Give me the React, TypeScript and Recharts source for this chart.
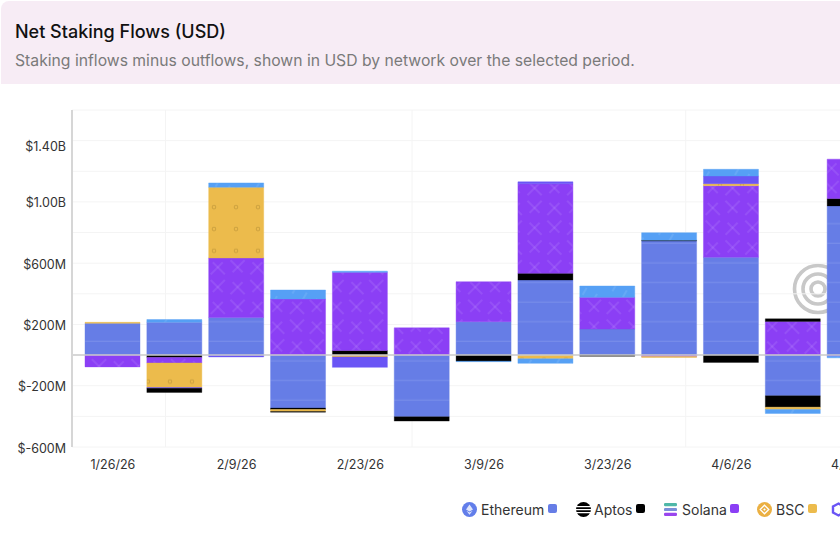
import React from 'react';
import { BarChart, Bar, XAxis, YAxis, CartesianGrid, ReferenceLine } from 'recharts';

const dates = ['1/26/26', '2/2/26', '2/9/26', '2/16/26', '2/23/26', '3/2/26', '3/9/26', '3/16/26', '3/23/26', '3/30/26', '4/6/26', '4/13/26', '4/20/26'];

const ethereum = [208, 215, 246, -346, 0, -403, 218, 490, 170, 745, 639, -266, 974];
const aptos = [0, -16, 0, -10, 30, -28, -40, 44, -8, 5, -48, -74, 48];
const solana = [-77, -36, 388, 366, 510, 178, 261, 584, 207, -10, 467, 220, 257];
const bsc = [6, -160, 462, -12, -12, 0, 0, -24, 0, -5, 13, -15, 0];
const violet = [0, -5, -12, 0, -68, 0, 0, 13, 0, 0, 50, 0, -10];
const blue = [0, 17, 28, 59, 8, 0, -3, -30, 74, 49, 44, -26, -8];
const other = [0, -27, 0, -5, 0, 0, 0, 0, 0, 0, 0, 17, 0];

const yTicks = [-600, -400, -200, 0, 200, 400, 600, 800, 1000, 1200, 1400, 1600];
const yLabels: Record<number, string> = {
  '-600': '$-600M',
  '-200': '$-200M',
  200: '$200M',
  600: '$600M',
  1000: '$1.00B',
  1400: '$1.40B',
};

const data = dates.map((date, i) => ({
  date,
  ethereum: ethereum[i],
  aptos: aptos[i],
  solana: solana[i],
  bsc: bsc[i],
  violet: violet[i],
  blue: blue[i],
  other: other[i],
}));

const COLORS = {
  ethereum: '#667de6',
  aptos: '#000000',
  solana: '#8b3ff5',
  bsc: '#ecbb4c',
  violet: '#6a55f5',
  blue: '#56a0f5',
  other: '#000000',
};

const font = 'Inter, sans-serif';

const YTick = ({ x, y, payload }: any) => {
  const label = yLabels[payload.value];
  if (!label) return null;
  // the top label sits a little under its grid line in the original
  const dy = payload.value === 1400 ? 5 : 0;
  return (
    <text x={66} y={y + dy} dy={5.5} textAnchor="end" fontSize={12.5} fontFamily={font} fill="#333">
      {label}
    </text>
  );
};

const EthIcon = () => (
  <svg width={15} height={15} viewBox="0 0 15 15">
    <circle cx={7.5} cy={7.5} r={7.5} fill="#627eea" />
    <path d="M7.5 2.5 L11 7.6 L7.5 9.6 L4 7.6 Z M4.4 8.8 L7.5 10.6 L10.6 8.8 L7.5 12.8 Z" fill="#dfe5fb" />
  </svg>
);

const AptosIcon = () => (
  <svg width={15} height={15} viewBox="0 0 15 15">
    <circle cx={7.5} cy={7.5} r={7.5} fill="#000" />
    <path d="M0 4.6 H15 M0 7.6 H15 M0 10.6 H15" stroke="#fff" strokeWidth={1.2} />
  </svg>
);

const SolanaIcon = () => (
  <svg width={15} height={15} viewBox="0 0 15 15">
    <rect x={1} y={1} width={13} height={3.2} rx={1.2} fill="#4fb8a8" />
    <rect x={1} y={5.9} width={13} height={3.2} rx={1.2} fill="#7a8fd8" />
    <rect x={1} y={10.8} width={13} height={3.2} rx={1.2} fill="#9a45ee" />
  </svg>
);

const BscIcon = () => (
  <svg width={15} height={15} viewBox="0 0 15 15">
    <circle cx={7.5} cy={7.5} r={7.5} fill="#ebb042" />
    <path d="M7.5 3.2 L11.8 7.5 L7.5 11.8 L3.2 7.5 Z" fill="none" stroke="#fff" strokeWidth={1.3} />
    <path d="M7.5 6.2 L8.8 7.5 L7.5 8.8 L6.2 7.5 Z" fill="#fff" />
  </svg>
);

const HexIcon = () => (
  <svg width={15} height={15} viewBox="0 0 15 15">
    <path d="M7.5 1.5 L13 4.5 V10.5 L7.5 13.5 L2 10.5 V4.5 Z" fill="none" stroke="#6a55f5" strokeWidth={2.4} />
  </svg>
);

const legendItems = [
  { name: 'Ethereum', icon: <EthIcon />, color: COLORS.ethereum, iconX: 462, textX: 481, squareX: 548 },
  { name: 'Aptos', icon: <AptosIcon />, color: COLORS.aptos, iconX: 576, textX: 594, squareX: 636 },
  { name: 'Solana', icon: <SolanaIcon />, color: COLORS.solana, iconX: 663, textX: 682, squareX: 730 },
  { name: 'BSC', icon: <BscIcon />, color: COLORS.bsc, iconX: 757, textX: 776, squareX: 808 },
];

export default function App() {
  return (
    <div style={{ position: 'relative', width: 840, height: 540, overflow: 'hidden', background: '#fff', fontFamily: font }}>
      <style>{'body{margin:0;overflow:hidden}'}</style>

      <div style={{ position: 'absolute', left: 1, top: 1, width: 839, height: 83, background: '#f7ecf5', borderTopLeftRadius: 8 }} />
      <div style={{ position: 'absolute', left: 15, top: 21, fontSize: 18, fontWeight: 500, color: '#111', whiteSpace: 'nowrap' }}>
        Net Staking Flows (USD)
      </div>
      <div style={{ position: 'absolute', left: 15, top: 51, fontSize: 15.73, color: '#7a7a7a', whiteSpace: 'nowrap' }}>
        Staking inflows minus outflows, shown in USD by network over the selected period.
      </div>

      <svg width={60} height={60} style={{ position: 'absolute', left: 788, top: 259 }}>
        <circle cx={30} cy={30} r={23.5} fill="none" stroke="#c8c8c8" strokeWidth={3.6} />
        <circle cx={30} cy={30} r={15} fill="none" stroke="#c8c8c8" strokeWidth={3.6} />
        <circle cx={30} cy={30} r={7} fill="none" stroke="#c8c8c8" strokeWidth={3.6} />
      </svg>

      <div style={{ position: 'absolute', left: 0, top: 0 }}>
        <BarChart
          width={900}
          height={540}
          data={data}
          stackOffset="sign"
          barSize={55}
          margin={{ top: 110, right: 6, left: 0, bottom: 63 }}
        >
          <defs>
            <pattern id="ethFill" width={40} height={19.6} patternUnits="userSpaceOnUse">
              <rect width={40} height={19.6} fill={COLORS.ethereum} />
              <line x1={0} x2={40} y1={8} y2={8} stroke="#fff" strokeOpacity={0.14} strokeWidth={1} />
            </pattern>
            <pattern id="solFill" width={28} height={28} patternUnits="userSpaceOnUse" patternTransform="rotate(45 0 0)">
              <rect width={28} height={28} fill={COLORS.solana} />
              <path d="M-3 7 H17 M7 -3 V17 M11 21 H31 M21 11 V31" stroke="#fff" strokeOpacity={0.17} strokeWidth={1} fill="none" />
            </pattern>
            <pattern id="bscFill" width={22} height={21.8} patternUnits="userSpaceOnUse" x={5}>
              <rect width={22} height={21.8} fill={COLORS.bsc} />
              <circle cx={11} cy={11} r={1.8} fill="none" stroke="#b88f35" strokeOpacity={0.6} strokeWidth={1} />
            </pattern>
            <pattern id="blueFill" width={18} height={12} patternUnits="userSpaceOnUse" patternTransform="rotate(-60)">
              <rect width={18} height={12} fill={COLORS.blue} />
              <line x1={0} x2={8} y1={4} y2={4} stroke="#fff" strokeOpacity={0.18} strokeWidth={1} />
            </pattern>
          </defs>
          <CartesianGrid stroke="#f4f4f4" verticalPoints={[165.5, 412, 685.7]} />
          <XAxis
            dataKey="date"
            interval={1}
            height={30}
            padding={{ left: 10, right: 8 }}
            axisLine={false}
            tickLine={false}
            tick={{ fontSize: 12.5, fontFamily: font, fill: '#333' }}
            tickMargin={7}
          />
          <YAxis
            width={72}
            domain={[-600, 1600]}
            ticks={yTicks}
            interval={0}
            tick={<YTick />}
            tickLine={false}
            axisLine={{ stroke: '#d6d6d6', strokeWidth: 2 }}
            tickMargin={6}
          />
          <Bar dataKey="ethereum" stackId="a" fill="url(#ethFill)" stroke={COLORS.ethereum} strokeOpacity={0.4} isAnimationActive={false} />
          <Bar dataKey="aptos" stackId="a" fill={COLORS.aptos} stroke={COLORS.aptos} strokeOpacity={0.3} isAnimationActive={false} />
          <Bar dataKey="solana" stackId="a" fill="url(#solFill)" stroke={COLORS.solana} strokeOpacity={0.4} isAnimationActive={false} />
          <Bar dataKey="bsc" stackId="a" fill="url(#bscFill)" stroke={COLORS.bsc} strokeOpacity={0.4} isAnimationActive={false} />
          <Bar dataKey="violet" stackId="a" fill={COLORS.violet} stroke={COLORS.violet} strokeOpacity={0.4} isAnimationActive={false} />
          <Bar dataKey="blue" stackId="a" fill="url(#blueFill)" stroke={COLORS.blue} strokeOpacity={0.4} isAnimationActive={false} />
          <Bar dataKey="other" stackId="a" fill={COLORS.other} stroke={COLORS.other} strokeOpacity={0.3} isAnimationActive={false} />
          <ReferenceLine y={0} stroke="#cbcbcb" strokeWidth={1.5} />
        </BarChart>
      </div>

      {legendItems.map((item) => (
        <React.Fragment key={item.name}>
          <div style={{ position: 'absolute', left: item.iconX, top: 501, width: 15, height: 15 }}>{item.icon}</div>
          <div style={{ position: 'absolute', left: item.textX, top: 501, fontSize: 14, lineHeight: '17px', color: '#333', whiteSpace: 'nowrap' }}>{item.name}</div>
          <div style={{ position: 'absolute', left: item.squareX, top: 504, width: 9, height: 9, borderRadius: 2, background: item.color }} />
        </React.Fragment>
      ))}
      <div style={{ position: 'absolute', left: 831, top: 501, width: 15, height: 15 }}><HexIcon /></div>
    </div>
  );
}
